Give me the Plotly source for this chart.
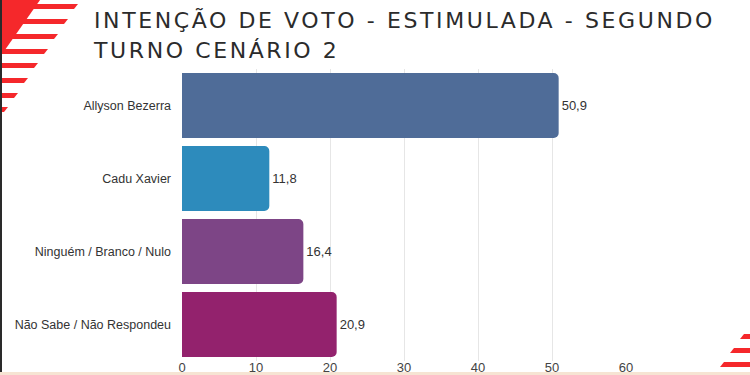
import plotly.graph_objects as go

categories = ["Allyson Bezerra", "Cadu Xavier", "Ninguém / Branco / Nulo", "Não Sabe / Não Respondeu"]
values = [50.9, 11.8, 16.4, 20.9]
bar_colors = ["#4f6c98", "#2d8bbc", "#7d4586", "#93226d"]
x_ticks = [0, 10, 20, 30, 40, 50, 60]
title_lines = ["INTENÇÃO DE VOTO - ESTIMULADA - SEGUNDO", "TURNO CENÁRIO 2"]

W, H = 750, 375
L, R, T, B = 182, 124, 69, 14
PW, PH = W - L - R, H - T - B


def px(x):
    return (x - L) / PW


def py(y):
    return 1 - (y - T) / PH


labels = [f"{v:.1f}".replace(".", ",") for v in values]

fig = go.Figure(go.Bar(
    y=categories, x=values, orientation="h",
    marker=dict(color=bar_colors, cornerradius=5, line=dict(width=0)),
    text=labels, textposition="outside", cliponaxis=False,
    textfont=dict(family="Liberation Sans, Arial", size=13, color="#333333"),
    hoverinfo="skip",
))

shapes = []
red = "#f5282b"
# top-left decoration
tri = f"M {px(0)},{py(0)} L {px(40)},{py(0)} L {px(0)},{py(57)} Z"
shapes.append(dict(type="path", path=tri, xref="paper", yref="paper", fillcolor=red, line=dict(width=0), layer="below"))
stripes = [(4, 78), (19, 68), (34, 58), (49, 48), (63, 38), (78, 28), (93, 18), (107, 8)]
for y0, xr in stripes:
    h = 5
    p = (f"M {px(0)},{py(y0)} L {px(xr)},{py(y0)} L {px(xr-4)},{py(y0+h)} "
         f"L {px(0)},{py(y0+h)} Z")
    shapes.append(dict(type="path", path=p, xref="paper", yref="paper", fillcolor=red, line=dict(width=0), layer="below"))
# bottom-right decoration
for y0, xl in [(334, 744), (348, 734), (362, 724)]:
    h = 5
    p = (f"M {px(xl)},{py(y0)} L {px(W)},{py(y0)} L {px(W)},{py(y0+h)} "
         f"L {px(xl-4)},{py(y0+h)} Z")
    shapes.append(dict(type="path", path=p, xref="paper", yref="paper", fillcolor=red, line=dict(width=0), layer="below"))
# left dark line
shapes.append(dict(type="rect", xref="paper", yref="paper", x0=px(0), x1=px(2), y0=py(0), y1=py(372),
                   fillcolor="#2a2a2a", line=dict(width=0)))
# bottom peach line
shapes.append(dict(type="rect", xref="paper", yref="paper", x0=px(0), x1=px(W), y0=py(372), y1=py(H),
                   fillcolor="#f6e4d3", line=dict(width=0)))

annotations = []
for i, line in enumerate(title_lines):
    annotations.append(dict(
        text=line, xref="paper", yref="paper", x=px(92), y=py(20 + 31 * i),
        xanchor="left", yanchor="middle", showarrow=False,
        font=dict(family="DejaVu Sans", size=22, color="#2b2b2b"),
    ))

fig.update_layout(
    template="none",
    width=W, height=H,
    margin=dict(l=L, r=R, t=T, b=B),
    paper_bgcolor="white", plot_bgcolor="white",
    bargap=0.11,
    showlegend=False,
    hovermode=False,
    shapes=shapes,
    annotations=annotations,
    xaxis=dict(range=[0, 60], tickvals=x_ticks, showgrid=True, gridcolor="#e6e6e6", gridwidth=1,
               zeroline=False, showline=False, ticks="", automargin=False,
               tickfont=dict(family="Liberation Sans, Arial", size=13, color="#444444"),
               ticklabelstandoff=-3),
    yaxis=dict(categoryorder="array", categoryarray=categories[::-1], showgrid=False,
               zeroline=False, showline=False, ticks="", automargin=False,
               ticklabelstandoff=10,
               tickfont=dict(family="Liberation Sans, Arial", size=12.5, color="#333333")),
)

post = """
document.body.style.margin = '0';
document.body.style.padding = '0';
document.querySelectorAll('.annotation-text').forEach(function(e){
  var b = e.getBBox();
  e.setAttribute('text-anchor', 'start');
  e.setAttribute('x', b.x);
  e.style.letterSpacing = '2.6px';
});
"""

fig.write_html("out.html", post_script=post, config={"displayModeBar": False, "staticPlot": True})
